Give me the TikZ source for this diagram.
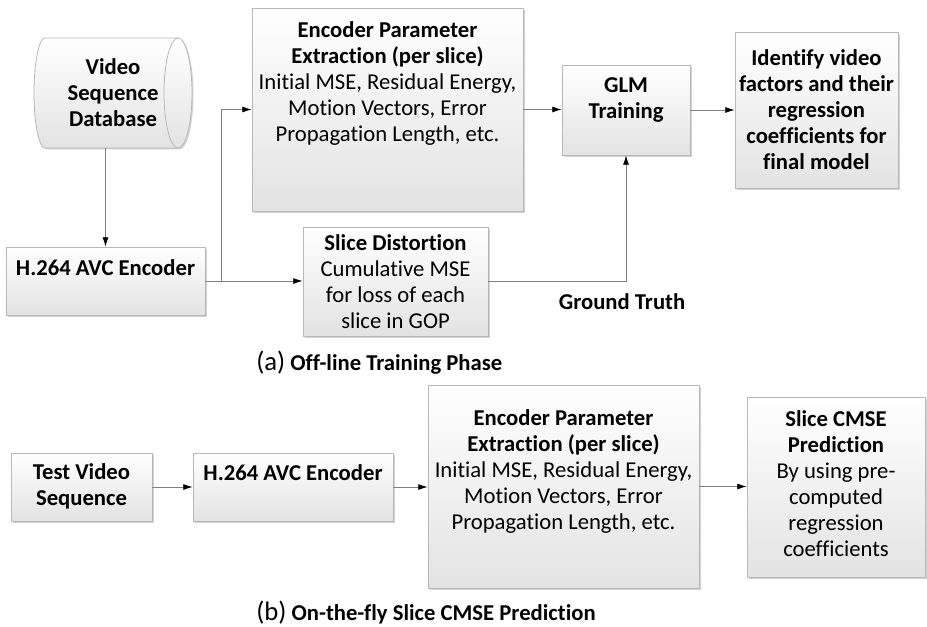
\documentclass[tikz,border=0pt]{standalone}
\usepackage{fontspec}
\setmainfont{Carlito}[Ligatures=NoCommon]
\usetikzlibrary{arrows.meta,fit,shadows,calc}
\begin{document}
\begin{tikzpicture}[x=0.75pt,y=-0.75pt,
  box/.style={draw=black!28, line width=0.6pt, top color=white, bottom color=black!11, inner sep=0pt,
    drop shadow={shadow xshift=1.3pt, shadow yshift=-1.3pt, fill=black!22, opacity=0.8}},
  txt/.style={align=center, font=\fontsize{17}{19.5}\selectfont, inner sep=0pt},
  captxt/.style={anchor=west, inner sep=0pt, font=\fontsize{17}{20}\selectfont\bfseries},
  arr/.style={draw=black!50, line width=0.6pt, -{Latex[length=7pt,width=4.5pt,color=black]}},
  ln/.style={draw=black!50, line width=0.6pt}]
\useasboundingbox[fill=white] (0,0) rectangle (927,627);

% ---------- (a) ----------
% cylinder (database)
\node[inner sep=0pt, fit={(34,38) (192,148)}] (db) {};
\fill[black!18] ($(45,38)+(1.5,1.5)$) -- ++(133,0) arc[start angle=-90,end angle=90,x radius=14,y radius=55] -- ++(-133,0) arc[start angle=90,end angle=270,x radius=11,y radius=55] -- cycle;
\path[draw=black!28, line width=0.6pt, top color=white, bottom color=black!11]
  (45,38) -- (178,38) arc[start angle=-90,end angle=90,x radius=14,y radius=55]
  -- (45,148) arc[start angle=90,end angle=270,x radius=11,y radius=55] -- cycle;
\draw[black!28, line width=0.6pt] (178,38) arc[start angle=-90,end angle=-270,x radius=14,y radius=55];
\node[txt, font=\fontsize{17}{19.5}\selectfont\bfseries] (dbt) at (113,93) {Video\\Sequence\\Database};

\node[box, fit={(6,247) (205,315)}] (enc1) {};
\node[txt] (enc1t) at (105.5,268) {\textbf{H.264 AVC Encoder}};

\node[box, fit={(252,8) (523,211)}] (epe) {};
\node[txt] (epet) at (387.5,83) {\textbf{Encoder Parameter}\\\textbf{Extraction (per slice)}\\Initial MSE, Residual Energy,\\Motion Vectors, Error\\Propagation Length, etc.};

\node[box, fit={(562,65) (690,155)}] (glm) {};
\node[txt] (glmt) at (626,100) {\textbf{GLM}\\\textbf{Training}};

\node[box, fit={(735,32) (898,188)}] (idf) {};
\node[txt] (idft) at (816.5,110) {\textbf{Identify video}\\\textbf{factors and their}\\\textbf{regression}\\\textbf{coefficients for}\\\textbf{final model}};

\node[box, fit={(303,227) (488,336)}] (sd) {};
\node[txt] (sdt) at (395.5,281.5) {\textbf{Slice Distortion}\\Cumulative MSE\\for loss of each\\slice in GOP};

\node[txt] (gt) at (622,302) {\textbf{Ground Truth}};

\node[captxt] (capa) at (256,363) {{\mdseries\fontsize{20}{22}\selectfont(a)} Off-line Training Phase};

% connectors (a)
\draw[arr] (enc1.north |- db.south) -- (enc1.north);
\draw[arr] (enc1.east) -- (enc1.east -| sd.west);
\coordinate (br) at (221,281);
\draw[arr] (br) |- (epe.west);
\draw[arr] (epe.east) -- (epe.east -| glm.west);
\draw[arr] (glm.east) -- (glm.east -| idf.west);
\draw[arr] (sd.east) -| (glm.south);

% ---------- (b) ----------
\node[box, fit={(11,453) (152,521)}] (tv) {};
\node[txt] (tvt) at (81.5,486.5) {\textbf{Test Video}\\\textbf{Sequence}};

\node[box, fit={(193,453) (393,521)}] (enc2) {};
\node[txt] (enc2t) at (293,473) {\textbf{H.264 AVC Encoder}};

\node[box, fit={(428,385) (699,588)}] (epe2) {};
\node[txt] (epe2t) at (563.5,471) {\textbf{Encoder Parameter}\\\textbf{Extraction (per slice)}\\Initial MSE, Residual Energy,\\Motion Vectors, Error\\Propagation Length, etc.};

\node[box, fit={(747,397) (925,577)}] (cm) {};
\node[txt] (cmt) at (836,483.5) {\textbf{Slice CMSE}\\\textbf{Prediction}\\By using pre-\\computed\\regression\\coefficients};

\node[captxt] (capb) at (256,613) {{\mdseries\fontsize{20}{22}\selectfont(b)} On-the-fly Slice CMSE Prediction};

\draw[arr] (tv.east) -- (tv.east -| enc2.west);
\draw[arr] (enc2.east) -- (enc2.east -| epe2.west);
\draw[arr] (epe2.east) -- (epe2.east -| cm.west);
\end{tikzpicture}
\end{document}
